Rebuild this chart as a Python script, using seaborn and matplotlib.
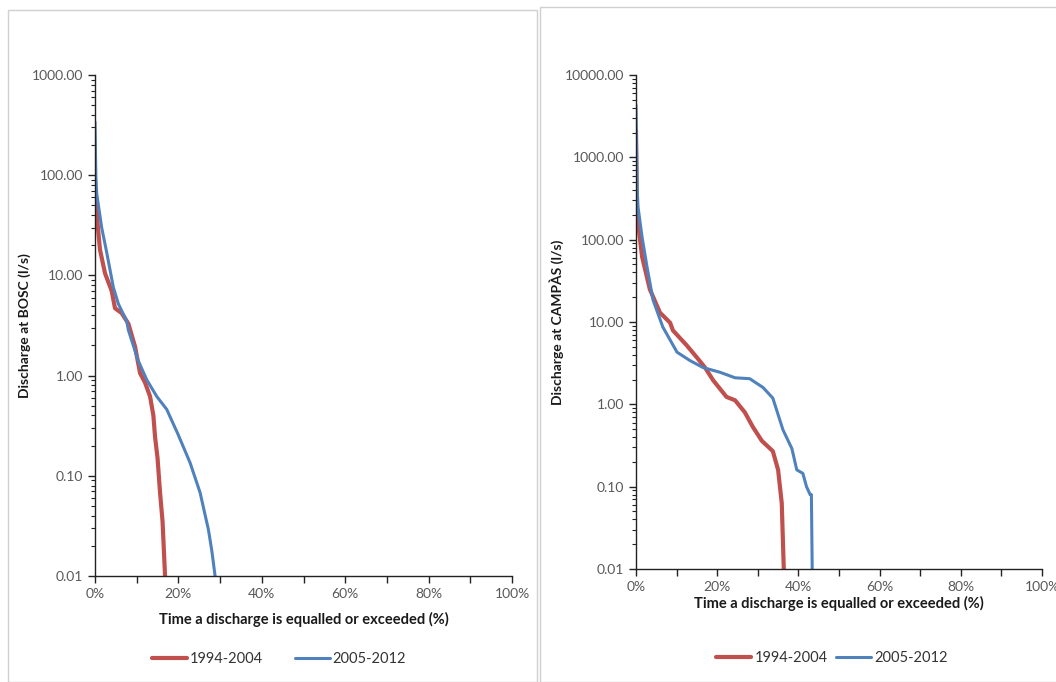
"""
Flow duration curves at BOSC and CAMPÀS, 1994-2004 vs 2005-2012.
"""

import matplotlib
matplotlib.use("Agg")
import matplotlib.pyplot as plt
import matplotlib.ticker as mticker
from matplotlib.patches import Rectangle
import seaborn as sns

sns.set_style("white")
plt.rcParams['font.family'] = ['Lato', 'DejaVu Sans']

RED = '#C0504D'
BLUE = '#4F81BD'

# BOSC - time exceeded (%) and discharge (l/s)
bosc_pct_9404 = [0.0, 0.2, 0.7, 1.2, 2.4, 4.0, 4.8, 6.4, 8.0, 9.6, 10.8, 12.0,
                 13.2, 14.0, 14.4, 15.0, 15.6, 16.2, 16.8]
bosc_q_9404 = [66, 60, 30, 18, 10.5, 7.0, 4.7, 4.2, 3.3, 1.95, 1.06, 0.85,
               0.62, 0.40, 0.245, 0.15, 0.068, 0.035, 0.01]
bosc_pct_0512 = [0.0, 0.2, 0.4, 1.6, 2.8, 4.4, 5.6, 7.6, 8.0, 10.3, 12.4, 14.8,
                 17.2, 19.9, 22.8, 25.2, 27.2, 28.0, 28.8]
bosc_q_0512 = [340, 100, 66, 30, 17, 7.6, 5.2, 3.5, 2.85, 1.43, 0.91, 0.62,
               0.46, 0.26, 0.135, 0.068, 0.029, 0.018, 0.01]

# CAMPÀS
campas_pct_9404 = [0.0, 0.2, 1.5, 3.4, 5.9, 8.4, 9.1, 12.5, 15.0, 17.0, 19.0,
                   22.3, 24.4, 26.8, 28.8, 31.0, 33.7, 35.0, 35.9, 36.4]
campas_q_9404 = [2100, 210, 62, 25, 13, 9.8, 7.9, 5.2, 3.7, 2.8, 1.96,
                 1.23, 1.12, 0.8, 0.53, 0.36, 0.27, 0.16, 0.063, 0.01]
campas_pct_0512 = [0.0, 0.3, 0.5, 1.5, 2.7, 4.2, 6.6, 10.1, 13.3, 16.5, 20.7,
                   24.4, 28.0, 31.3, 33.7, 36.2, 38.4, 39.6, 41.1, 42.0, 42.9,
                   43.2, 43.4]
campas_q_0512 = [4300, 400, 250, 107, 47, 18.5, 8.7, 4.3, 3.4, 2.8, 2.45,
                 2.1, 2.05, 1.6, 1.19, 0.49, 0.29, 0.16, 0.145, 0.1, 0.08,
                 0.08, 0.01]

x_ticks = [0, 10, 20, 30, 40, 50, 60, 70, 80, 90, 100]
x_labels = ['0%', '', '20%', '', '40%', '', '60%', '', '80%', '', '100%']


def style_axis(ax, ymax, ylabel, xpad):
    ax.set_yscale('log')
    ax.set_ylim(0.01, ymax)
    ax.set_xlim(0, 100)
    ax.set_xticks(x_ticks)
    ax.set_xticklabels(x_labels)
    ax.yaxis.set_major_locator(mticker.LogLocator(base=10, numticks=20))
    ax.yaxis.set_minor_locator(mticker.LogLocator(base=10, subs=range(2, 10), numticks=20))
    ax.yaxis.set_minor_formatter(mticker.NullFormatter())
    ax.yaxis.set_major_formatter(mticker.FuncFormatter(lambda v, p: f'{v:.2f}'))
    for side in ['top', 'right']:
        ax.spines[side].set_visible(False)
    for side in ['left', 'bottom']:
        ax.spines[side].set_color('#222222')
        ax.spines[side].set_linewidth(1.0)
    ax.tick_params(axis='both', which='major', direction='out', length=5, width=1,
                   color='#222222', labelsize=10, labelcolor='#595959', left=True, bottom=True)
    ax.tick_params(axis='y', which='minor', direction='out', length=3, width=0.8,
                   color='#222222', left=True)
    ax.set_xlabel('Time a discharge is equalled or exceeded (%)', fontsize=10.5,
                  fontweight='bold', color='#1a1a1a', labelpad=xpad)
    ax.set_ylabel(ylabel, fontsize=10, fontweight='bold', color='#1a1a1a', labelpad=0.5)
    ax.grid(False)


fig = plt.figure(figsize=(10.56, 6.82), dpi=100)

# chart area borders (like two pasted spreadsheet charts)
fig.patches.append(Rectangle((8 / 1056, 0.0), 529 / 1056, 1 - 10 / 682, transform=fig.transFigure,
                             fill=False, edgecolor='#d0d0d0', linewidth=1))
fig.patches.append(Rectangle((540 / 1056, 0.0), 520 / 1056, 1 - 7 / 682, transform=fig.transFigure,
                             fill=False, edgecolor='#d0d0d0', linewidth=1))

ax1 = fig.add_axes([95 / 1056, 1 - 576 / 682, 417 / 1056, 501 / 682])
ax2 = fig.add_axes([636 / 1056, 1 - 569 / 682, 406 / 1056, 494 / 682])

sns.lineplot(x=bosc_pct_9404, y=bosc_q_9404, ax=ax1, color=RED, lw=3,
             sort=False, estimator=None, label='1994-2004')
sns.lineplot(x=bosc_pct_0512, y=bosc_q_0512, ax=ax1, color=BLUE, lw=2.2,
             sort=False, estimator=None, label='2005-2012')
sns.lineplot(x=campas_pct_9404, y=campas_q_9404, ax=ax2, color=RED, lw=3,
             sort=False, estimator=None, label='1994-2004')
sns.lineplot(x=campas_pct_0512, y=campas_q_0512, ax=ax2, color=BLUE, lw=2.2,
             sort=False, estimator=None, label='2005-2012')

style_axis(ax1, 1000, 'Discharge at BOSC (l/s)', 8.5)
style_axis(ax2, 10000, 'Discharge at CAMPÀS (l/s)', 2.5)

for ax, cx, cy, colsp in [(ax1, 279, 659, 2.2), (ax2, 832, 658, 0.6)]:
    handles, labels = ax.get_legend_handles_labels()
    ax.get_legend().remove()
    fig.legend(handles, labels, loc='center', bbox_to_anchor=(cx / 1056, 1 - cy / 682),
               ncol=2, frameon=False, fontsize=10.5, handlelength=2.4, handletextpad=0.2,
               columnspacing=colsp, labelcolor='#333333')

plt.savefig('out.png', dpi=100)
